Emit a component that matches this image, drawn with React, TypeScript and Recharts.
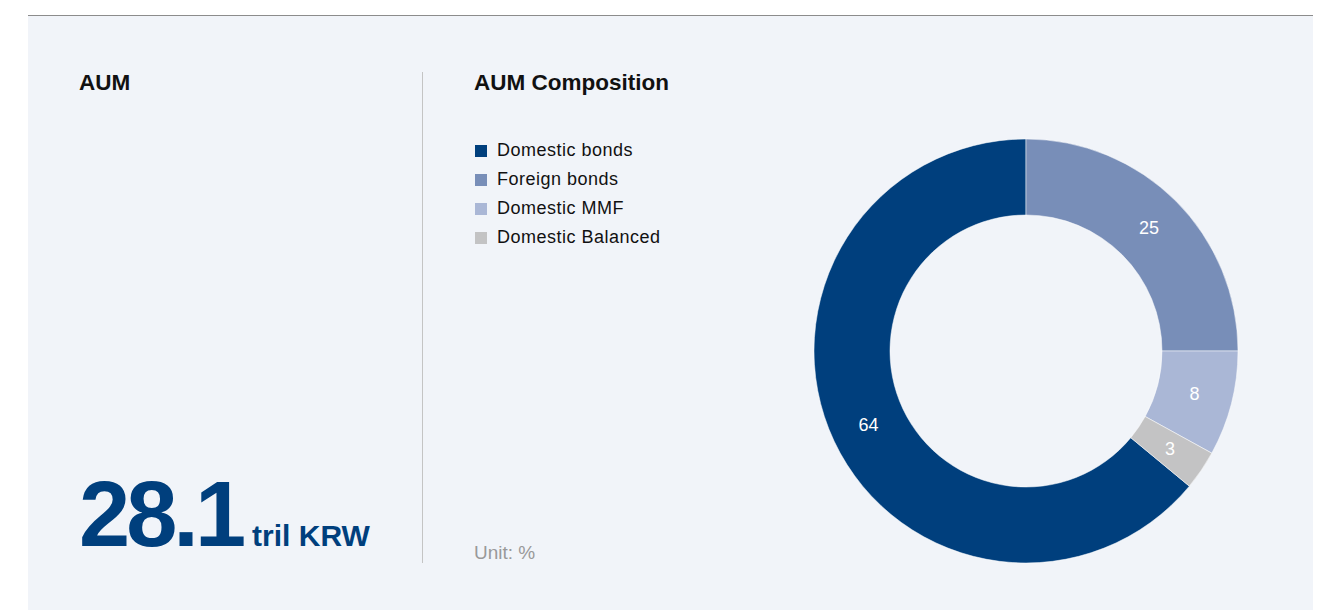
import { PieChart, Pie, Cell, Legend } from 'recharts';

const categories = ['Domestic bonds', 'Foreign bonds', 'Domestic MMF', 'Domestic Balanced'];
const shares = [64, 25, 8, 3];
const colors = ['#003f7d', '#788eb8', '#aab7d6', '#c3c3c4'];

const totalAum = '28.1';
const aumUnit = 'tril KRW';

const data = categories.map((name, i) => ({ name, value: shares[i] }));
const total = shares.reduce((a, b) => a + b, 0);
// first slice ends at 12 o'clock, the rest run clockwise from there
const startAngle = 90 + (shares[0] / total) * 360;

const FONT = '"Liberation Sans", Arial, Helvetica, sans-serif';
const RADIAN = Math.PI / 180;

const renderLabel = (props: any) => {
  const { cx, cy, midAngle, innerRadius, outerRadius, value } = props;
  const r = (innerRadius + outerRadius) / 2;
  const x = cx + r * Math.cos(-midAngle * RADIAN);
  const y = cy + r * Math.sin(-midAngle * RADIAN);
  return (
    <text
      x={x}
      y={y}
      fill='#ffffff'
      fontSize={18}
      fontFamily={FONT}
      textAnchor='middle'
      dominantBaseline='central'
    >
      {value}
    </text>
  );
};

const renderLegend = (props: any) => {
  const items = [...(props.payload || [])].sort(
    (a: any, b: any) => categories.indexOf(a.value) - categories.indexOf(b.value)
  );
  return (
    <ul style={{ listStyle: 'none', margin: 0, padding: 0 }}>
      {items.map((entry: any) => (
        <li
          key={entry.value}
          style={{ display: 'flex', alignItems: 'center', height: 29, fontFamily: FONT }}
        >
          <span
            style={{ display: 'inline-block', width: 12, height: 12, background: entry.color, marginRight: 10 }}
          />
          <span style={{ fontSize: 18, color: '#111', letterSpacing: 0.5 }}>{entry.value}</span>
        </li>
      ))}
    </ul>
  );
};

export default function App() {
  return (
    <div style={{ position: 'fixed', left: 0, top: 0, width: 1332, height: 610, background: '#ffffff', fontFamily: FONT }}>
      <div
        style={{
          position: 'absolute',
          left: 28,
          top: 15,
          width: 1285,
          height: 595,
          background: '#f1f4f9',
          borderTop: '1px solid #8c8c8c',
        }}
      />
      <div style={{ position: 'absolute', left: 79, top: 70, fontSize: 22.5, fontWeight: 700, color: '#111' }}>AUM</div>
      <div style={{ position: 'absolute', left: 474, top: 70, fontSize: 22.5, fontWeight: 700, color: '#111' }}>
        AUM Composition
      </div>
      <div style={{ position: 'absolute', left: 422, top: 72, width: 1, height: 491, background: '#c4c4c4' }} />
      <div
        style={{
          position: 'absolute',
          left: 79,
          top: 468,
          whiteSpace: 'nowrap',
          color: '#003f7d',
          fontWeight: 700,
          lineHeight: 1,
        }}
      >
        <span style={{ fontSize: 92, letterSpacing: -4 }}>{totalAum}</span>
        <span style={{ fontSize: 30, marginLeft: 10 }}>{aumUnit}</span>
      </div>
      <div style={{ position: 'absolute', left: 474, top: 542, fontSize: 19, color: '#999' }}>Unit: %</div>
      <div style={{ position: 'absolute', left: 0, top: 0 }}>
        <PieChart width={1332} height={610} margin={{ top: 0, right: 0, bottom: 0, left: 0 }}>
          <Pie
            data={data}
            dataKey='value'
            nameKey='name'
            cx={1026}
            cy={351}
            innerRadius={136}
            outerRadius={212}
            startAngle={startAngle}
            endAngle={startAngle - 360}
            stroke='#ffffff'
            strokeWidth={0.5}
            label={renderLabel}
            labelLine={false}
            isAnimationActive={false}
          >
            {data.map((d, i) => (
              <Cell key={d.name} fill={colors[i]} />
            ))}
          </Pie>
          <Legend
            content={renderLegend}
            wrapperStyle={{ left: 475, top: 136, width: 'auto', bottom: 'auto' }}
          />
        </PieChart>
      </div>
    </div>
  );
}
